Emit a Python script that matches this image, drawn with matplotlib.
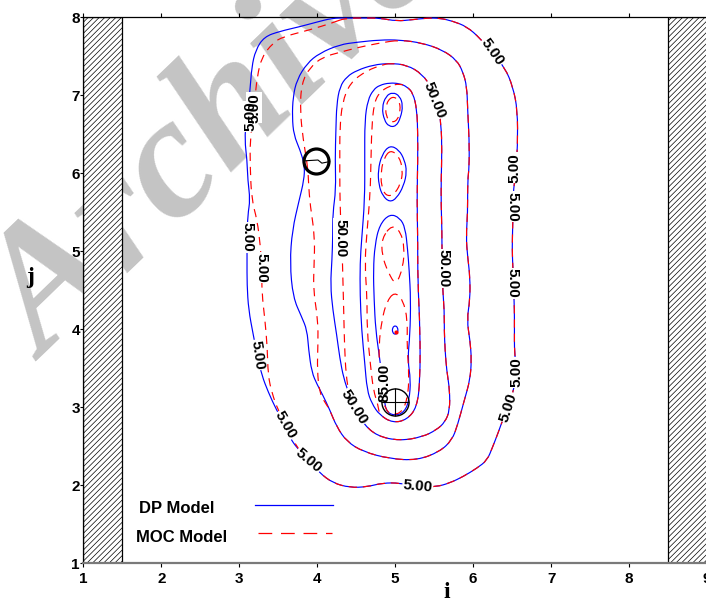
import matplotlib
matplotlib.use("Agg")
import matplotlib.pyplot as plt
from matplotlib.patches import Rectangle, PathPatch
from matplotlib.path import Path

plt.rcParams['font.family'] = ['Liberation Sans', 'DejaVu Sans']
plt.rcParams['font.weight'] = 'bold'
plt.rcParams['hatch.linewidth'] = 0.5

# contour levels that carry labels
levels = [5.0, 50.0, 85.0]

# 5.00 ring: common part (clockwise from top), then each model's west flank
ring5_shared = [(4.36, 7.99), (4.61, 7.99), (4.80, 7.99), (5.02, 7.95), (5.23, 7.97), (5.41, 7.99),
                (5.57, 7.99), (5.74, 7.95), (5.92, 7.88), (6.09, 7.73), (6.24, 7.55), (6.41, 7.35),
                (6.51, 7.11), (6.57, 6.81), (6.57, 6.34), (6.55, 6.04), (6.51, 5.72), (6.51, 5.36),
                (6.50, 5.05), (6.51, 4.80), (6.52, 4.50), (6.53, 4.25), (6.53, 3.99), (6.53, 3.70),
                (6.56, 3.45), (6.52, 3.22), (6.45, 3.00), (6.38, 2.84), (6.32, 2.67), (6.25, 2.49),
                (6.18, 2.32), (6.05, 2.22), (5.87, 2.11), (5.70, 2.03), (5.53, 1.98), (5.29, 1.98),
                (5.06, 2.03), (4.84, 2.03), (4.64, 1.98), (4.42, 1.97), (4.20, 2.03), (4.03, 2.16),
                (3.89, 2.32), (3.74, 2.48)]
dp5_left = [(3.65, 2.61), (3.59, 2.77), (3.48, 2.96), (3.37, 3.20), (3.29, 3.41), (3.23, 3.67),
            (3.18, 3.93), (3.12, 4.25), (3.10, 4.57), (3.10, 4.89), (3.10, 5.18), (3.11, 5.47),
            (3.14, 5.66), (3.11, 5.91), (3.10, 6.17), (3.07, 6.43), (3.09, 6.68), (3.14, 7.07),
            (3.16, 7.36), (3.21, 7.58), (3.32, 7.75), (3.52, 7.82), (3.78, 7.88), (4.00, 7.94),
            (4.20, 7.99)]
moc5_left = [(3.61, 2.75), (3.50, 2.96), (3.42, 3.18), (3.37, 3.41), (3.36, 3.77), (3.33, 4.12),
             (3.29, 4.47), (3.29, 4.79), (3.27, 5.08), (3.23, 5.40), (3.16, 5.66), (3.14, 6.08),
             (3.14, 6.43), (3.18, 6.75), (3.20, 6.94), (3.23, 7.24), (3.29, 7.49), (3.43, 7.67),
             (3.56, 7.75), (3.91, 7.84), (4.20, 7.93)]

# unlabelled ring between 5 and 50
ringA_shared = [(5.06, 7.71), (5.35, 7.67), (5.61, 7.58), (5.79, 7.45), (5.87, 7.30), (5.92, 7.11),
                (5.93, 6.81), (5.95, 6.43), (5.95, 6.08), (5.93, 5.91), (5.93, 5.49), (5.91, 5.18),
                (5.93, 4.93), (5.96, 4.67), (5.96, 4.38), (5.92, 4.12), (5.96, 3.86), (5.98, 3.61),
                (5.96, 3.35), (5.89, 3.10), (5.80, 2.77), (5.73, 2.58), (5.57, 2.43), (5.28, 2.32),
                (4.93, 2.34), (4.59, 2.43), (4.38, 2.56), (4.25, 2.75), (4.16, 2.97)]
dpA_left = [(4.07, 3.16), (4.00, 3.29), (3.93, 3.45), (3.89, 3.74), (3.87, 3.99), (3.80, 4.16),
            (3.69, 4.41), (3.65, 4.85), (3.68, 5.27), (3.77, 5.66), (3.83, 5.91), (3.84, 6.10),
            (3.78, 6.30), (3.70, 6.49), (3.68, 6.72), (3.69, 6.98), (3.74, 7.20), (3.87, 7.41),
            (4.03, 7.54), (4.29, 7.65), (4.51, 7.68), (4.80, 7.71)]
mocA_left = [(4.12, 3.03), (4.03, 3.18), (4.00, 3.48), (4.01, 3.80), (4.01, 4.12), (3.95, 4.50),
             (3.96, 4.82), (3.97, 5.19), (3.91, 5.59), (3.89, 5.85), (3.88, 6.08), (3.82, 6.43),
             (3.78, 6.81), (3.80, 7.16), (3.91, 7.36), (4.07, 7.49), (4.29, 7.55), (4.51, 7.61),
             (4.80, 7.67)]

# 50.00 ring
ring50_shared = [(4.93, 7.41), (5.15, 7.39), (5.35, 7.27), (5.47, 7.09), (5.55, 6.88), (5.59, 6.62),
                 (5.60, 6.30), (5.59, 5.91), (5.59, 5.59), (5.60, 5.27), (5.60, 5.02), (5.61, 4.76),
                 (5.61, 4.50), (5.63, 4.25), (5.63, 3.99), (5.64, 3.74), (5.66, 3.48), (5.70, 3.22),
                 (5.70, 2.96), (5.64, 2.81), (5.53, 2.71), (5.35, 2.62), (5.06, 2.57), (4.77, 2.63),
                 (4.59, 2.79), (4.47, 2.99), (4.41, 3.17)]
dp50_left = [(4.34, 3.37), (4.29, 3.63), (4.25, 3.93), (4.20, 4.25), (4.17, 4.57), (4.19, 4.89),
             (4.20, 5.21), (4.20, 5.49), (4.24, 5.79), (4.23, 6.17), (4.24, 6.56), (4.25, 6.88),
             (4.29, 7.11), (4.38, 7.24), (4.51, 7.32), (4.72, 7.39)]
moc50_left = [(4.37, 3.41), (4.35, 3.80), (4.34, 4.25), (4.33, 4.63), (4.32, 5.02), (4.30, 5.40),
              (4.29, 5.79), (4.29, 6.17), (4.29, 6.56), (4.32, 6.90), (4.42, 7.16), (4.64, 7.32),
              (4.84, 7.39)]

# unlabelled ring between 50 and 85
ringB_shared = [(5.06, 7.15), (5.15, 7.11), (5.23, 7.03), (5.28, 6.81), (5.29, 6.49), (5.29, 6.17),
                (5.28, 5.66), (5.29, 5.15), (5.29, 4.63), (5.32, 3.99), (5.32, 3.35), (5.28, 3.00),
                (5.15, 2.84), (4.97, 2.80), (4.80, 2.90)]
dpB_left = [(4.70, 3.05), (4.64, 3.22), (4.61, 3.57), (4.57, 3.99), (4.55, 4.44), (4.55, 4.85),
            (4.57, 5.15), (4.61, 5.66), (4.61, 6.17), (4.61, 6.68), (4.65, 6.94), (4.72, 7.07),
            (4.80, 7.13), (4.93, 7.16)]
mocB_left = [(4.78, 3.03), (4.72, 3.22), (4.68, 3.57), (4.64, 3.99), (4.64, 4.41), (4.61, 4.85),
             (4.64, 5.27), (4.68, 5.74), (4.69, 6.17), (4.70, 6.59), (4.73, 6.90), (4.80, 7.04),
             (4.93, 7.12)]

# 85.00 loop round the source and the closed cells inside
dp85 = [(4.93, 5.48), (5.06, 5.43), (5.13, 5.30), (5.16, 5.02), (5.18, 4.76), (5.20, 4.38),
        (5.19, 3.93), (5.16, 3.61), (5.20, 3.35), (5.18, 3.09), (5.12, 2.94), (5.00, 2.89),
        (4.89, 2.94), (4.86, 3.09), (4.84, 3.31), (4.80, 3.64), (4.75, 3.99), (4.73, 4.38),
        (4.72, 4.76), (4.74, 5.08), (4.80, 5.34), (4.93, 5.48)]
moc85 = [(4.99, 4.48), (5.10, 4.38), (5.16, 4.12), (5.15, 3.80), (5.18, 3.41), (5.16, 3.12),
         (5.09, 2.94), (4.97, 2.90), (4.88, 2.96), (4.83, 3.16), (4.80, 3.48), (4.79, 3.80),
         (4.83, 4.12), (4.89, 4.35), (4.99, 4.48)]
moc_cell3 = [(4.96, 5.34), (5.07, 5.25), (5.12, 5.05), (5.10, 4.79), (5.01, 4.56), (4.91, 4.73),
             (4.83, 4.95), (4.83, 5.17), (4.96, 5.34)]
dp_cell1 = [(4.97, 7.04), (5.06, 6.99), (5.10, 6.87), (5.07, 6.71), (5.01, 6.60), (4.92, 6.60),
            (4.86, 6.68), (4.83, 6.84), (4.88, 6.99), (4.97, 7.04)]
moc_cell1 = [(4.96, 6.99), (5.05, 6.94), (5.07, 6.81), (5.03, 6.68), (4.95, 6.65), (4.88, 6.73),
             (4.88, 6.89), (4.96, 6.99)]
dp_cell2 = [(4.93, 6.36), (5.05, 6.30), (5.12, 6.17), (5.15, 6.02), (5.11, 5.84), (5.02, 5.68),
            (4.93, 5.63), (4.84, 5.71), (4.79, 5.85), (4.78, 6.04), (4.83, 6.24), (4.93, 6.36)]
moc_cell2 = [(4.94, 6.30), (5.05, 6.22), (5.10, 6.04), (5.07, 5.86), (4.98, 5.72), (4.88, 5.71),
             (4.82, 5.84), (4.82, 6.04), (4.86, 6.20), (4.94, 6.30)]
dp_peak = [(5.00, 4.05), (5.035, 4.02), (5.035, 3.96), (5.00, 3.93), (4.965, 3.96), (4.965, 4.02),
           (5.00, 4.05)]
moc_peak = [(5.01, 3.97)]

# observation well and injection point
well_i, well_j = 3.98, 6.16
trace_i = [3.84, 4.01, 4.06, 4.16]
trace_j = [6.16, 6.17, 6.13, 6.15]
source_i, source_j = 5.0, 3.07

# label level index, position, rotation
contour_labels = [
    (0, 3.14, 6.73, 90), (0, 3.19, 6.84, 90), (0, 3.10, 5.18, -90), (0, 3.29, 4.79, -90),
    (0, 3.23, 3.67, -82), (0, 3.59, 2.77, -60), (0, 3.89, 2.32, -40), (0, 5.29, 1.99, -5),
    (0, 6.45, 3.00, 72), (0, 6.56, 3.45, 90), (0, 6.51, 4.59, -90), (0, 6.51, 5.57, -90),
    (0, 6.53, 6.07, 90), (0, 6.24, 7.55, -55),
    (1, 5.50, 6.94, -68), (1, 4.30, 5.17, -90), (1, 5.62, 4.78, -90), (1, 4.47, 3.00, -58),
    (2, 4.86, 3.31, 90),
]


def loop(pts):
    # closed loop drawn as quadratic bezier through the segment midpoints
    if pts[-1] == pts[0]:
        pts = pts[:-1]
    n = len(pts)
    mids = [((pts[k][0] + pts[(k + 1) % n][0]) / 2, (pts[k][1] + pts[(k + 1) % n][1]) / 2)
            for k in range(n)]
    verts = [mids[-1]]
    codes = [Path.MOVETO]
    for k in range(n):
        verts += [pts[k], mids[k]]
        codes += [Path.CURVE3, Path.CURVE3]
    return Path(verts, codes)


dp_curves = [ring5_shared + dp5_left, ringA_shared + dpA_left, ring50_shared + dp50_left,
             ringB_shared + dpB_left, dp85, dp_cell1, dp_cell2, dp_peak]
moc_curves = [ring5_shared + moc5_left, ringA_shared + mocA_left, ring50_shared + moc50_left,
              ringB_shared + mocB_left, moc85, moc_cell3, moc_cell1, moc_cell2]

fig = plt.figure(figsize=(7.06, 6.0), dpi=100)
ax = fig.add_axes([0.118, 0.0612, 0.8834, 0.91])
ax.set_facecolor('none')

fig.text(-0.056, 0.415, "Archive of SID", rotation=44, fontsize=125, color='#c4c4c4',
         family='Liberation Serif', style='italic', weight='bold',
         ha='left', va='baseline', zorder=-5)

# impermeable side strips
for x0 in (1.0, 8.5):
    ax.add_patch(Rectangle((x0, 1.0), 0.5, 7.0, facecolor='white', edgecolor='black',
                           hatch='//////', lw=0.9, zorder=2))

for c in dp_curves:
    ax.add_patch(PathPatch(loop(c), fill=False, edgecolor='#0000ff', lw=0.85, zorder=3))
for c in moc_curves:
    ax.add_patch(PathPatch(loop(c), fill=False, edgecolor='#ff0000', lw=0.85,
                           linestyle=(0, (7, 5)), zorder=3.1))
ax.plot([p[0] for p in moc_peak], [p[1] for p in moc_peak], 'o', color='#ff0000', ms=2,
        zorder=3.1)

for k, li, lj, rot in contour_labels:
    ax.text(li, lj, f"{levels[k]:.2f}", rotation=rot, ha='center', va='center',
            rotation_mode='anchor', fontsize=11, color='white',
            bbox=dict(fc='white', ec='none', pad=0.4), zorder=4)
for k, li, lj, rot in contour_labels:
    ax.text(li, lj, f"{levels[k]:.2f}", rotation=rot, ha='center', va='center',
            rotation_mode='anchor', fontsize=11, color='black', zorder=4.5)

ax.plot(trace_i, trace_j, color='black', lw=0.8, zorder=5)
ax.plot([well_i], [well_j], 'o', ms=18, mfc='none', mec='black', mew=2.3, zorder=5)
ax.plot([source_i], [source_j], 'o', ms=19.5, mfc='none', mec='black', mew=1.0, zorder=5)
ax.plot([source_i], [source_j], '+', ms=19.5, mec='black', mew=0.8, zorder=5)

# legend block
ax.text(0.0893, 0.0995, "DP Model", transform=ax.transAxes, fontsize=12, va='center')
ax.text(0.0845, 0.048, "MOC Model", transform=ax.transAxes, fontsize=12, va='center')
ax.plot([0.275, 0.400], [0.107, 0.107], transform=ax.transAxes, color='#0000ff', lw=0.9)
ax.plot([0.280, 0.399], [0.0555, 0.0555], transform=ax.transAxes, color='#ff0000', lw=0.9,
        ls=(0, (11, 7)))

ax.set_xlim(1, 9)
ax.set_ylim(1, 8)
ax.set_xticks(range(1, 10))
ax.set_yticks(range(1, 9))
ax.tick_params(axis='x', direction='out', length=3, width=0.8, top=True, labelsize=11, pad=3)
ax.tick_params(axis='y', direction='out', length=2.2, width=0.8, labelsize=11, pad=0.3)
ax.spines['bottom'].set_color('#7a7a7a')
ax.spines['bottom'].set_linewidth(1.6)
ax.spines['top'].set_linewidth(0.9)
ax.spines['left'].set_linewidth(0.9)
ax.spines['right'].set_visible(False)

fig.text(0.633, 0.012, "i", family='Liberation Serif', weight='bold', fontsize=17,
         ha='center', va='center')
fig.text(0.0425, 0.538, "j", family='Liberation Serif', weight='bold', fontsize=17,
         ha='center', va='center')

fig.savefig("out.png", dpi=100)
